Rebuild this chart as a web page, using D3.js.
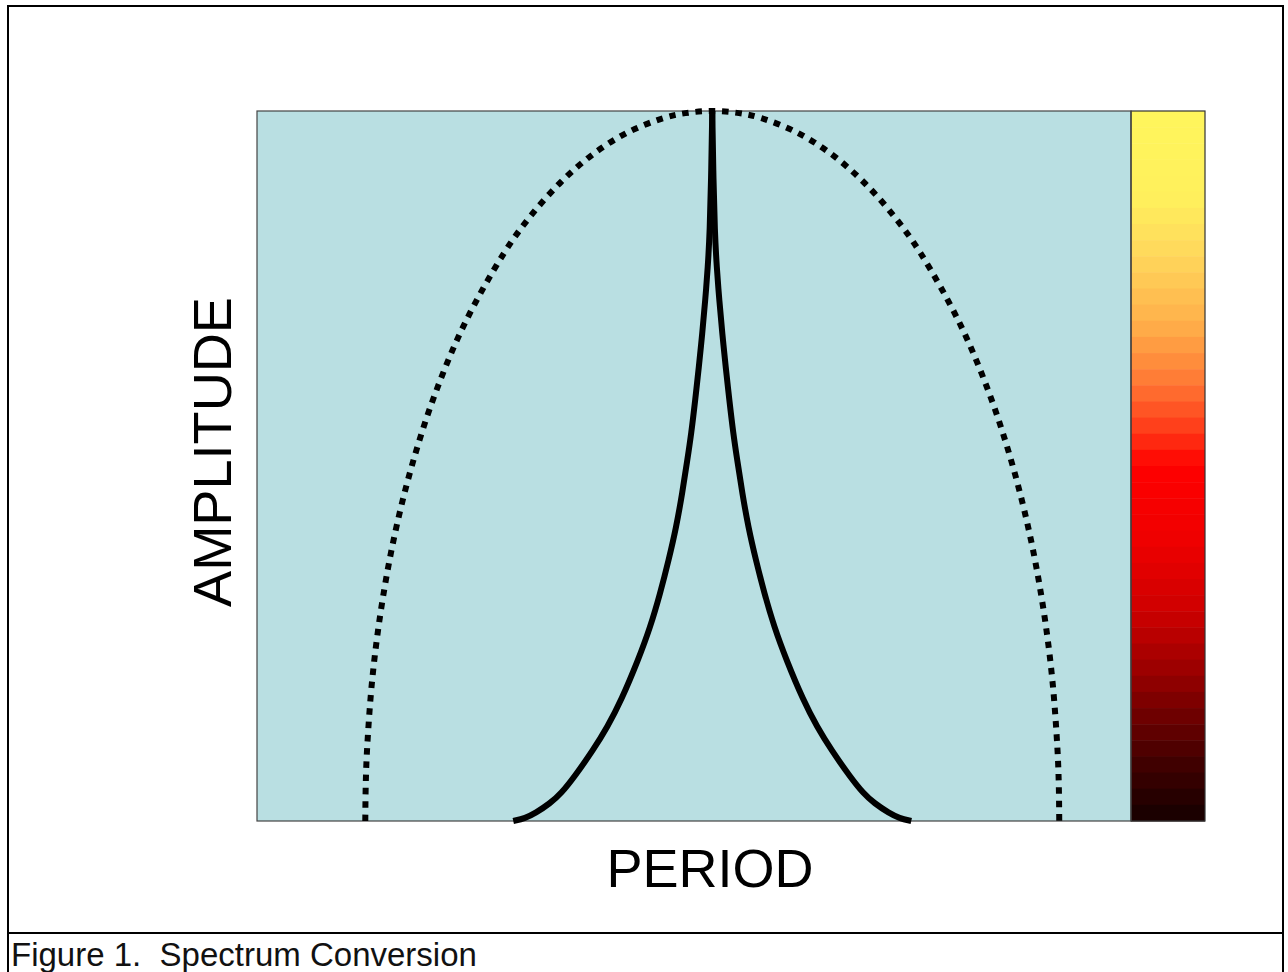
<!DOCTYPE html>
<html>
<head>
<meta charset="utf-8">
<script src="https://cdn.jsdelivr.net/npm/d3@7"></script>
<style>
  html, body { margin: 0; padding: 0; background: #fff; }
  svg { display: block; }
</style>
</head>
<body>
<div id="chart"></div>
<script>
// Solid curve (converted spectrum): two branches meeting in a cusp at the top
const solidAmp         = [0, 0.4, 1.1, 2.5, 3.9, 6.2, 10.0, 13.2, 17.0, 22.7, 27.3, 32.1, 36.8, 41.4, 46.2,
                          50.8, 54.6, 59.3, 63.9, 68.7, 73.4, 78.0, 82.8, 91.7, 100]
const solidPeriodLeft  = [29.32, 30.69, 31.84, 33.55, 34.81, 36.30, 38.47, 40.08, 41.68, 43.62, 45.00, 46.14, 47.11,
                          47.97, 48.66, 49.23, 49.69, 50.14, 50.55, 50.95, 51.29, 51.58, 51.80, 51.98, 52.09]
const solidPeriodRight = [74.86, 73.49, 72.34, 70.63, 69.37, 67.88, 65.71, 64.10, 62.50, 60.56, 59.18, 58.04, 57.07,
                          56.21, 55.52, 54.95, 54.49, 54.04, 53.63, 53.23, 52.89, 52.60, 52.38, 52.20, 52.09]

// Dotted curve (original spectrum): left foot -> top -> right foot
const dotPeriod = [12.39, 12.44, 12.59, 13.19, 14.22, 15.70, 17.71, 20.33, 23.74, 28.27, 31.17, 34.78, 38.54, 42.44,
                   46.49, 49.02, 52.09, 55.16, 57.69, 61.74, 65.64, 69.40, 73.01, 75.91, 80.44, 83.85, 86.47,
                   88.48, 89.96, 90.99, 91.59, 91.74, 91.79]
const dotAmp    = [0, 5, 10, 20, 30, 40, 50, 60, 70, 80, 85, 90, 94, 97, 99, 99.7, 100,
                   99.7, 99, 97, 94, 90, 85, 80, 70, 60, 50, 40, 30, 20, 10, 5, 0]

// Colour bar, top to bottom
const barStops  = [0, 0.12, 0.2, 0.3, 0.38, 0.45, 0.5, 0.6, 0.7, 0.78, 0.85, 0.92, 1]
const barColors = ['#fff55c', '#fff05c', '#ffd85c', '#ffb04a', '#ff7a35', '#ff3a18', '#ff0000',
                   '#f00000', '#d00000', '#a00000', '#700000', '#400000', '#150000']

const W = 1288, H = 972
const plot = { left: 257, right: 1131, top: 111, bottom: 821 }
const barRight = 1205

const svg = d3.select('#chart').append('svg')
  .attr('width', W).attr('height', H)
  .style('font-family', "'Liberation Sans', Arial, sans-serif")

svg.append('rect').attr('width', W).attr('height', H).attr('fill', '#fff')

const x = d3.scaleLinear().domain([0, 100]).range([plot.left, plot.right])
const y = d3.scaleLinear().domain([0, 100]).range([plot.bottom, plot.top])

// plot background
svg.append('rect')
  .attr('x', plot.left).attr('y', plot.top)
  .attr('width', plot.right - plot.left).attr('height', plot.bottom - plot.top)
  .attr('fill', '#b9dfe2')

// colour bar, stepped bands
const barScale = d3.scaleLinear().domain(barStops).range(barColors)
const nBands = 44
const bandH = (plot.bottom - plot.top) / nBands
svg.append('g').selectAll('rect')
  .data(d3.range(nBands))
  .join('rect')
  .attr('x', plot.right)
  .attr('y', i => plot.top + i * bandH)
  .attr('width', barRight - plot.right)
  .attr('height', bandH + 0.5)
  .attr('fill', i => barScale((i + 0.5) / nBands))
svg.append('rect')
  .attr('x', plot.right).attr('y', plot.top)
  .attr('width', barRight - plot.right).attr('height', plot.bottom - plot.top)
  .attr('fill', 'none').attr('stroke', '#333').attr('stroke-width', 1.2)

// frame
svg.append('rect')
  .attr('x', plot.left).attr('y', plot.top)
  .attr('width', plot.right - plot.left).attr('height', plot.bottom - plot.top)
  .attr('fill', 'none').attr('stroke', '#444').attr('stroke-width', 1.2)

// dotted curve
const dotData = dotPeriod.map((p, i) => ({ p, a: dotAmp[i] }))
svg.append('path')
  .datum(dotData)
  .attr('fill', 'none')
  .attr('stroke', '#000')
  .attr('stroke-width', 6)
  .attr('stroke-dasharray', '6.5 6.8')
  .attr('d', d3.line().x(d => x(d.p)).y(d => y(d.a)).curve(d3.curveCatmullRom.alpha(0.5)))

// solid curve, two branches so the cusp stays sharp
const solidLine = d3.line().x(d => x(d.p)).y(d => y(d.a)).curve(d3.curveBasis)
;[solidPeriodLeft, solidPeriodRight].forEach(branch => {
  svg.append('path')
    .datum(branch.map((p, i) => ({ p, a: solidAmp[i] })))
    .attr('fill', 'none')
    .attr('stroke', '#000')
    .attr('stroke-width', 6)
    .attr('d', solidLine)
})

// axis titles
svg.append('text')
  .attr('transform', 'translate(231,452) rotate(-90)')
  .attr('text-anchor', 'middle')
  .attr('font-size', 53)
  .attr('textLength', 310)
  .attr('lengthAdjust', 'spacingAndGlyphs')
  .attr('fill', '#000')
  .text('AMPLITUDE')

svg.append('text')
  .attr('x', 710).attr('y', 887)
  .attr('text-anchor', 'middle')
  .attr('font-size', 54)
  .attr('fill', '#000')
  .text('PERIOD')

// outer box and caption strip
svg.append('rect')
  .attr('x', 8).attr('y', 6)
  .attr('width', 1275).attr('height', H + 10)
  .attr('fill', 'none').attr('stroke', '#000').attr('stroke-width', 2)
svg.append('line')
  .attr('x1', 8).attr('x2', 1283)
  .attr('y1', 933).attr('y2', 933)
  .attr('stroke', '#000').attr('stroke-width', 2)

svg.append('text')
  .attr('x', 11).attr('y', 966)
  .attr('font-size', 33)
  .attr('fill', '#111')
  .style('white-space', 'pre')
  .text('Figure 1.  Spectrum Conversion')
</script>
</body>
</html>
